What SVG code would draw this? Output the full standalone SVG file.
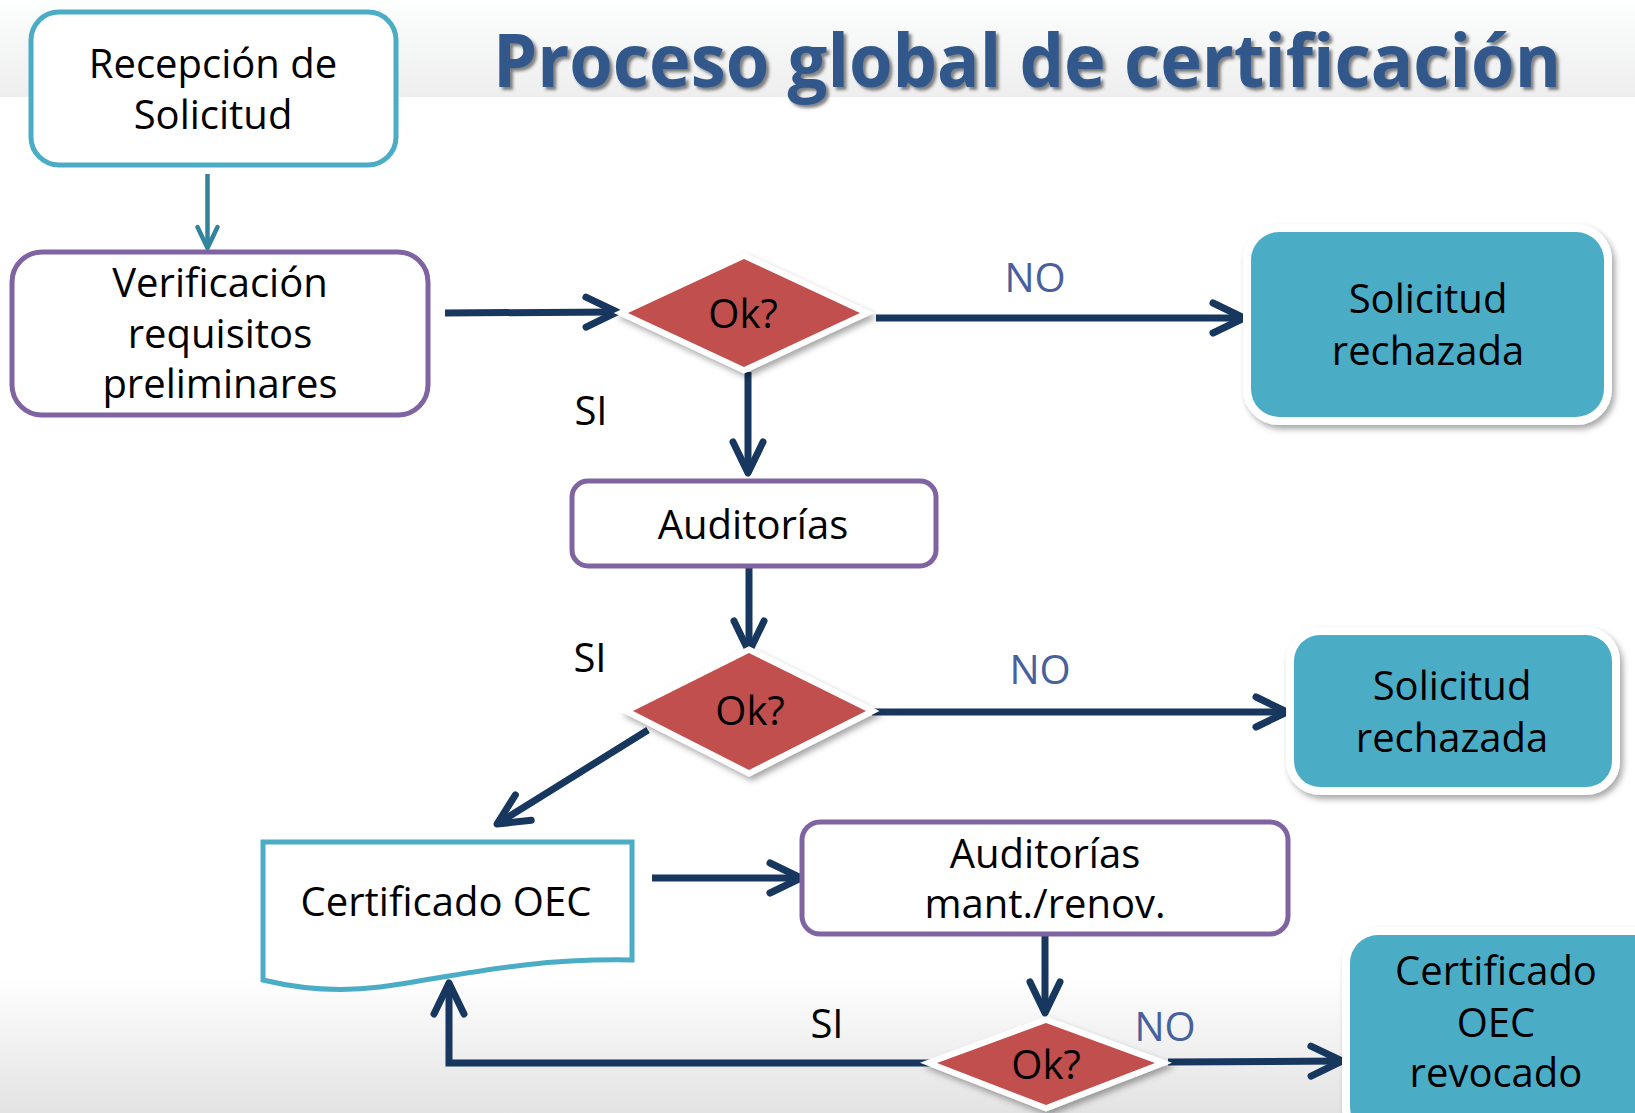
<svg xmlns="http://www.w3.org/2000/svg" width="1635" height="1113" viewBox="0 0 1635 1113">
<defs>
<linearGradient id="hdr" x1="0" y1="0" x2="0" y2="1">
<stop offset="0" stop-color="#fdfefe"/><stop offset="1" stop-color="#eeeeee"/>
</linearGradient>
<linearGradient id="ftr" x1="0" y1="0" x2="0" y2="1">
<stop offset="0" stop-color="#ffffff"/><stop offset="1" stop-color="#e3e3e3"/>
</linearGradient>
<filter id="sh" x="-20%" y="-20%" width="140%" height="150%">
<feDropShadow dx="3" dy="4" stdDeviation="3" flood-color="#000" flood-opacity="0.35"/>
</filter>
<filter id="tsh" x="-5%" y="-20%" width="110%" height="150%">
<feDropShadow dx="3" dy="3" stdDeviation="1.5" flood-color="#333" flood-opacity="0.6"/>
</filter>
<marker id="ah" markerUnits="userSpaceOnUse" markerWidth="60" markerHeight="60" viewBox="-40 -30 60 60" refX="0" refY="0" orient="auto" overflow="visible">
<path d="M-31,-15 L0,0 L-31,15" fill="none" stroke="#17375e" stroke-width="7" stroke-linecap="round" stroke-linejoin="round"/>
</marker>
<marker id="aht" markerUnits="userSpaceOnUse" markerWidth="40" markerHeight="40" viewBox="-30 -20 40 40" refX="0" refY="0" orient="auto" overflow="visible">
<path d="M-21,-10 L0,0 L-21,10" fill="none" stroke="#31849b" stroke-width="4.5" stroke-linecap="round" stroke-linejoin="round"/>
</marker>
</defs>
<style>
.t{font-family:"Open Sans","Noto Sans","Liberation Sans",sans-serif;font-size:40px;fill:#000;text-anchor:middle}
.no{fill:#48609b}
.pbox{fill:#fff;stroke:#8064a2;stroke-width:5}
.tbox{fill:#fff;stroke:#4bacc6;stroke-width:5}
.fbox{fill:#4bacc6;stroke:#fff;stroke-width:16;paint-order:stroke;filter:url(#sh)}
.dia{fill:#c0504d;stroke:#fff;stroke-width:12;paint-order:stroke;stroke-linejoin:miter;filter:url(#sh)}
.c{fill:none;stroke:#17375e;stroke-width:7;marker-end:url(#ah)}
</style>
<rect x="0" y="0" width="1635" height="1113" fill="#fff"/>
<rect x="0" y="0" width="1635" height="97" fill="url(#hdr)"/>
<rect x="0" y="975" width="1635" height="138" fill="url(#ftr)"/>
<text x="493" y="87" textLength="1068" lengthAdjust="spacingAndGlyphs" font-family="Open Sans, Noto Sans, Liberation Sans, sans-serif" font-weight="bold" font-size="74" fill="#30598b" filter="url(#tsh)">Proceso global de certificación</text>

<g id="connectors">
<line x1="207.5" y1="174" x2="207.5" y2="248" stroke="#31849b" stroke-width="4.5" marker-end="url(#aht)"/>
<line class="c" x1="445" y1="313" x2="617" y2="312"/>
<line class="c" x1="876" y1="318" x2="1244" y2="318"/>
<line class="c" x1="748" y1="372" x2="748" y2="473"/>
<line class="c" x1="749" y1="566" x2="749" y2="652"/>
<line class="c" x1="872" y1="712" x2="1287" y2="712"/>
<line class="c" x1="648" y1="730" x2="497" y2="824"/>
<line class="c" x1="652" y1="878" x2="801" y2="878"/>
<line class="c" x1="1045" y1="934" x2="1045" y2="1013"/>
<polyline class="c" points="930,1063 449,1063 449,983" stroke-linejoin="miter"/>
<line class="c" x1="1168" y1="1062" x2="1342" y2="1061"/>
<text class="t" x="591" y="425">SI</text>
<text class="t no" x="1035" y="292">NO</text>
<text class="t" x="590" y="672">SI</text>
<text class="t no" x="1040" y="684">NO</text>
<text class="t" x="827" y="1038">SI</text>
<text class="t no" x="1165" y="1041">NO</text>
</g>

<g id="recepcion">
<rect class="tbox" x="31" y="12" width="365" height="153" rx="28"/>
<text class="t" x="213" y="78">Recepción de</text>
<text class="t" x="213" y="129">Solicitud</text>
</g>
<g id="verificacion">
<rect class="pbox" x="12" y="252" width="416" height="163" rx="30"/>
<text class="t" x="220" y="297">Verificación</text>
<text class="t" x="220" y="348">requisitos</text>
<text class="t" x="220" y="398">preliminares</text>
</g>
<g id="ok1">
<polygon class="dia" points="628,313 744,259 860,313 744,367"/>
<text class="t" x="743" y="328">Ok?</text>
</g>
<g id="rechazada1">
<rect class="fbox" x="1251" y="232" width="353" height="185" rx="28"/>
<text class="t" x="1428" y="313">Solicitud</text>
<text class="t" x="1428" y="365">rechazada</text>
</g>
<g id="auditorias">
<rect class="pbox" x="572" y="481" width="364" height="85" rx="16"/>
<text class="t" x="753" y="539">Auditorías</text>
</g>
<g id="ok2">
<polygon class="dia" points="633,711 749,653 866,711 749,770"/>
<text class="t" x="750" y="725">Ok?</text>
</g>
<g id="rechazada2">
<rect class="fbox" x="1294" y="635" width="318" height="152" rx="26"/>
<text class="t" x="1452" y="700">Solicitud</text>
<text class="t" x="1452" y="752">rechazada</text>
</g>
<g id="certificado">
<path class="tbox" d="M263,842 L632,842 L632,960 C520,958 450,978 380,987 C340,992 300,989 263,980 Z"/>
<text class="t" x="446" y="916">Certificado OEC</text>
</g>
<g id="mantenimiento">
<rect class="pbox" x="802" y="822" width="486" height="112" rx="18"/>
<text class="t" x="1045" y="868">Auditorías</text>
<text class="t" x="1045" y="918">mant./renov.</text>
</g>
<g id="ok3">
<polygon class="dia" points="937,1063 1046,1023 1155,1063 1046,1105"/>
<text class="t" x="1046" y="1079">Ok?</text>
</g>
<g id="revocado">
<rect class="fbox" x="1350" y="935" width="320" height="200" rx="28"/>
<text class="t" x="1496" y="985">Certificado</text>
<text class="t" x="1496" y="1037">OEC</text>
<text class="t" x="1496" y="1087">revocado</text>
</g>
</svg>
